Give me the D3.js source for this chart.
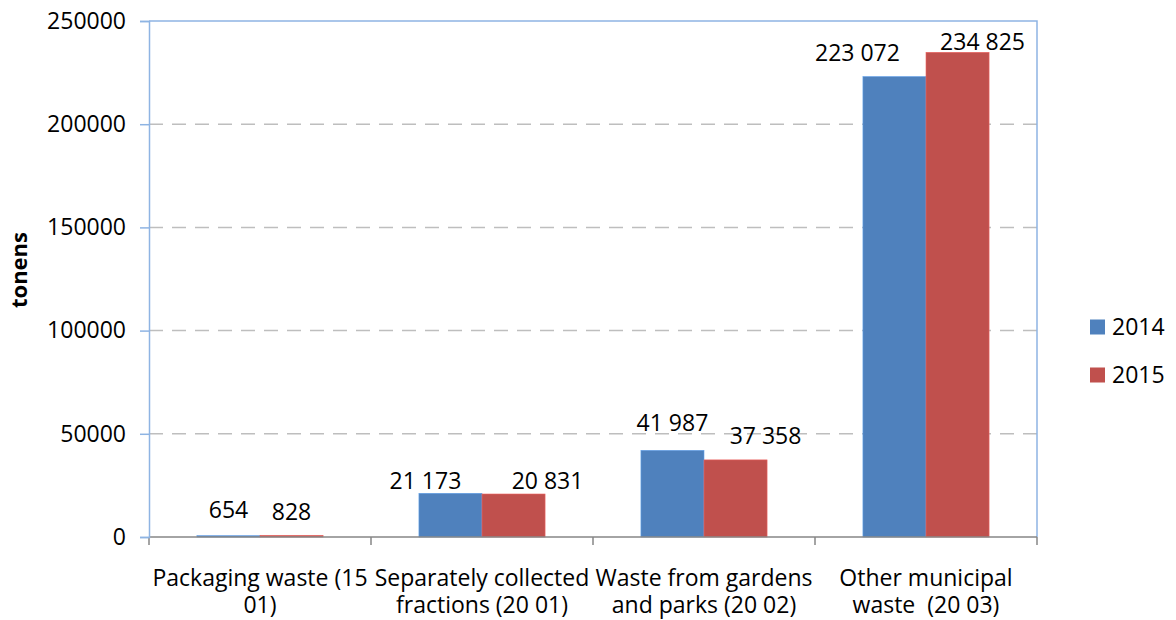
<!DOCTYPE html>
<html>
<head>
<meta charset="utf-8">
<script src="https://cdn.jsdelivr.net/npm/d3@7"></script>
<style>
  body { margin: 0; background: #fff; }
  text { font-family: "Open Sans", sans-serif; fill: #000; white-space: pre; }
</style>
</head>
<body>
<div id="chart"></div>
<script>
  // data
  var categories = [
    ['Packaging waste (15', '01)'],
    ['Separately collected', 'fractions (20 01)'],
    ['Waste from gardens', 'and parks (20 02)'],
    ['Other municipal', 'waste  (20 03)']
  ];
  var seriesNames = ['2014', '2015'];
  var values2014 = [654, 21173, 41987, 223072];
  var values2015 = [828, 20831, 37358, 234825];
  var yTicks = [0, 50000, 100000, 150000, 200000, 250000];

  (function () {
    'use strict';

    // hand-placed data labels in the original (offset from bar centre / bar top)
    var labelShift = {
      '2014': [[0, -26], [-25, -12], [0, -27], [-37, -24]],
      '2015': [[0, -23], [34, -13], [30, -24], [25, -10]]
    };

    var colors = { '2014': '#4F81BD', '2015': '#C0504D' };
    var width = 1176, height = 620;
    var plotLeft = 149, plotRight = 1037, plotTop = 21, plotBottom = 537;
    var fontSize = 23;

    var fmt = d3.formatLocale({ thousands: ' ', grouping: [3], decimal: '.', currency: ['', ''] }).format(',d');

    var svg = d3.select('#chart').append('svg')
        .attr('width', width)
        .attr('height', height);

    var x0 = d3.scaleBand()
        .domain(d3.range(categories.length))
        .range([plotLeft, plotRight])
        .padding(0);

    var x1 = d3.scaleBand()
        .domain(seriesNames)
        .range([0, x0.bandwidth()])
        .paddingInner(0)
        .paddingOuter(0.76);

    var y = d3.scaleLinear()
        .domain([0, 250000])
        .range([plotBottom, plotTop]);

    // dashed grid
    svg.append('g').selectAll('line')
        .data(yTicks.filter(function(d) { return d > 0 && d < 250000; }))
        .enter().append('line')
        .attr('x1', plotLeft).attr('x2', plotRight)
        .attr('y1', function(d) { return y(d); })
        .attr('y2', function(d) { return y(d); })
        .attr('stroke', '#BEBEBE')
        .attr('stroke-width', 1.5)
        .attr('stroke-dasharray', '14,9');

    // plot border top / right
    svg.append('path')
        .attr('d', 'M' + plotLeft + ',' + plotTop + 'H' + plotRight + 'V' + plotBottom)
        .attr('fill', 'none')
        .attr('stroke', '#8EB4E3')
        .attr('stroke-width', 1.5);

    var series = [
      { name: seriesNames[0], values: values2014 },
      { name: seriesNames[1], values: values2015 }
    ];

    function points(s) {
      return s.values.map(function(v, i) { return { name: s.name, value: v, i: i }; });
    }

    var groups = svg.append('g').selectAll('g')
        .data(series)
        .enter().append('g')
        .attr('fill', function(d) { return colors[d.name]; });

    groups.selectAll('rect')
        .data(points)
        .enter().append('rect')
        .attr('x', function(d) { return x0(d.i) + x1(d.name); })
        .attr('width', x1.bandwidth())
        .attr('y', function(d) { return y(d.value); })
        .attr('height', function(d) { return plotBottom - y(d.value); })
        .attr('stroke', function(d) { return d3.color(colors[d.name]).brighter(0.6); })
        .attr('stroke-width', 0.6);

    // x axis line and ticks
    var xTickScale = d3.scaleLinear().domain([0, categories.length]).range([plotLeft, plotRight]);
    var gx = svg.append('g')
        .attr('transform', 'translate(0,' + plotBottom + ')');
    gx.append('line')
        .attr('x1', plotLeft).attr('x2', plotRight)
        .attr('stroke', '#868686').attr('stroke-width', 1.5);
    gx.selectAll('.xt')
        .data(d3.range(categories.length + 1))
        .enter().append('line')
        .attr('x1', function(d) { return xTickScale(d); })
        .attr('x2', function(d) { return xTickScale(d); })
        .attr('y1', 0).attr('y2', 8)
        .attr('stroke', '#868686').attr('stroke-width', 1.5);

    // data labels
    groups.selectAll('text')
        .data(points)
        .enter().append('text')
        .attr('text-anchor', 'middle')
        .attr('dy', '0.35em')
        .style('font-size', fontSize + 'px')
        .attr('x', function(d) {
          return x0(d.i) + x1(d.name) + x1.bandwidth() / 2 + labelShift[d.name][d.i][0];
        })
        .attr('y', function(d) { return y(d.value) + labelShift[d.name][d.i][1]; })
        .text(function(d) { return fmt(d.value); });

    // y axis
    var yAxis = d3.axisLeft(y).tickValues(yTicks).tickSize(9).tickPadding(14).tickFormat(d3.format('d'));
    var gy = svg.append('g')
        .attr('transform', 'translate(' + plotLeft + ',0)')
        .call(yAxis);
    gy.select('.domain').attr('stroke', '#8EB4E3').attr('stroke-width', 1.5);
    gy.selectAll('.tick line').attr('stroke', '#8EB4E3').attr('stroke-width', 1.5);
    gy.selectAll('.tick text').style('font-size', fontSize + 'px').attr('fill', '#000')
        .style('font-family', '"Open Sans", sans-serif');

    // category labels
    var catText = svg.append('g').selectAll('text')
        .data(categories)
        .enter().append('text')
        .attr('text-anchor', 'middle')
        .style('font-size', fontSize + 'px')
        .attr('x', function(d, i) { return x0(i) + x0.bandwidth() / 2; })
        .attr('y', 586);
    catText.selectAll('tspan')
        .data(function(d) { return d; })
        .enter().append('tspan')
        .attr('x', function() { return this.parentNode.getAttribute('x'); })
        .attr('dy', function(d, j) { return j === 0 ? 0 : 27; })
        .text(function(d) { return d; });

    // y title
    svg.append('text')
        .attr('transform', 'translate(27,270) rotate(-90)')
        .attr('text-anchor', 'middle')
        .style('font-size', '22px')
        .style('font-weight', 'bold')
        .text('tonens');

    // legend
    var legend = svg.append('g').selectAll('g')
        .data(seriesNames)
        .enter().append('g')
        .attr('transform', function(d, i) { return 'translate(1090,' + (327 + i * 48) + ')'; });
    legend.append('rect')
        .attr('x', 0).attr('y', -7.5)
        .attr('width', 15).attr('height', 15)
        .attr('fill', function(d) { return colors[d]; });
    legend.append('text')
        .attr('x', 22)
        .attr('dy', '0.35em')
        .style('font-size', fontSize + 'px')
        .text(function(d) { return d; });
  })();
</script>
</body>
</html>
